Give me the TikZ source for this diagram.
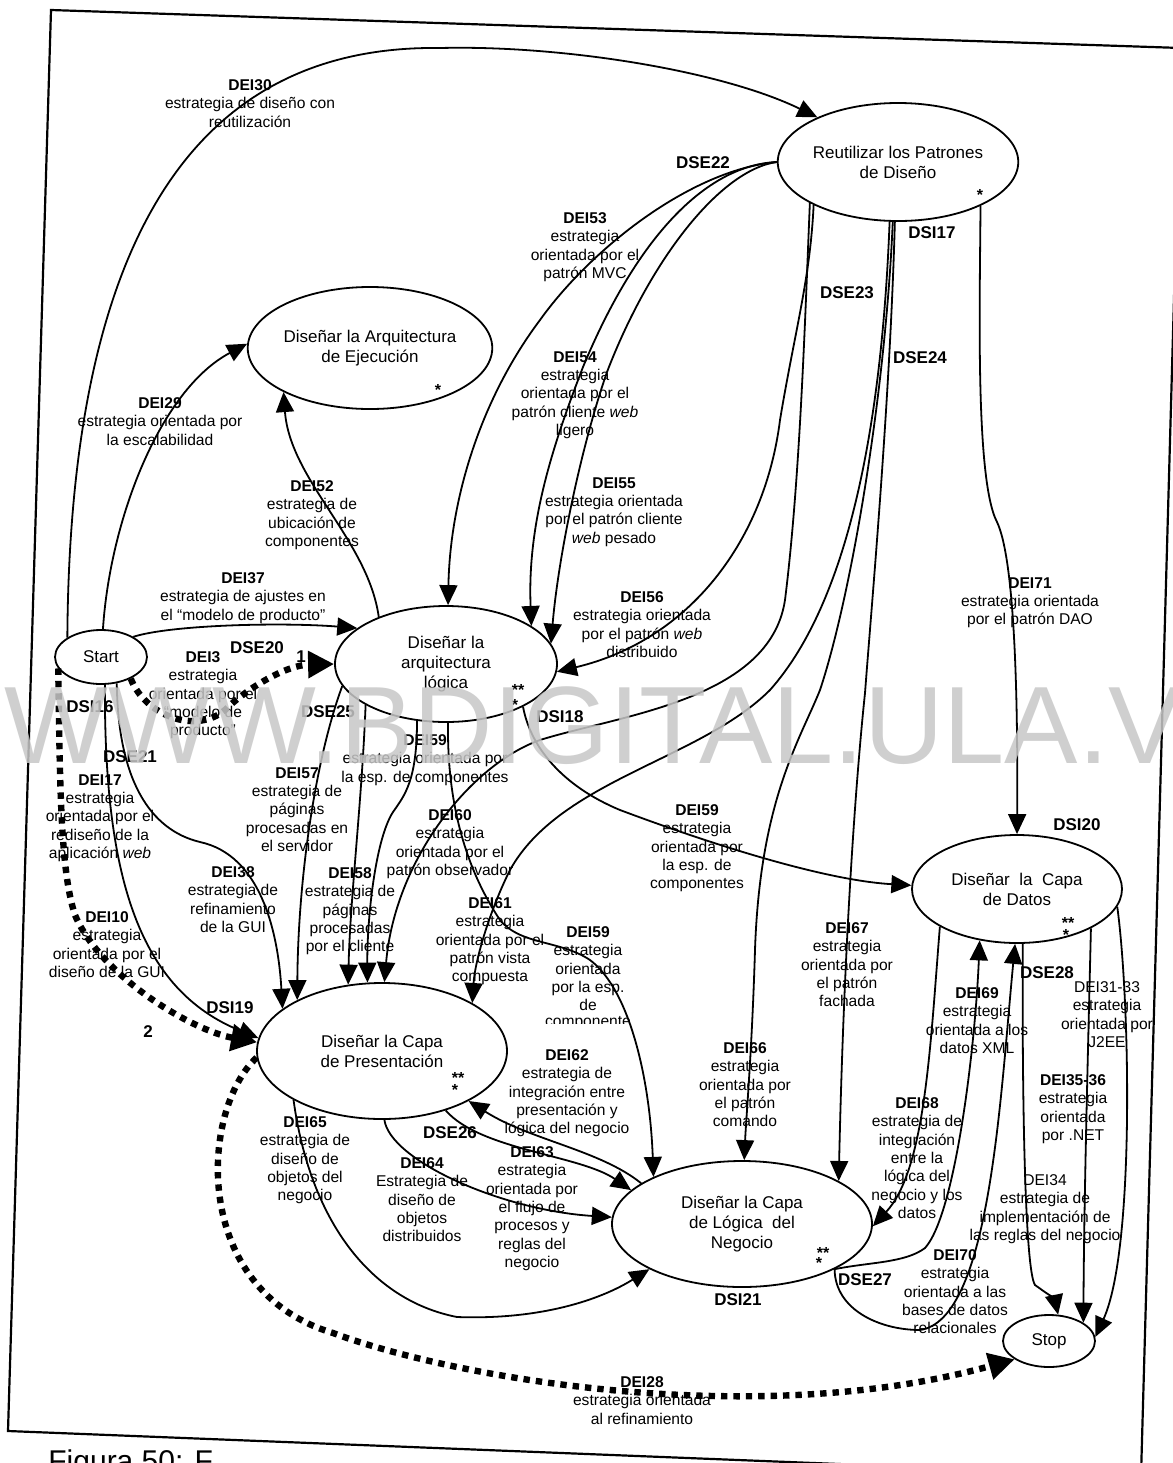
\documentclass[tikz,border=0pt]{standalone}
\usepackage{fontspec}
\setmainfont{Liberation Sans}
\usetikzlibrary{shapes.geometric,arrows.meta}
\begin{document}
\begin{tikzpicture}[x=0.5pt,y=-0.5pt,
  stagebox/.style={draw, ellipse, line width=0.9pt, inner sep=0pt, align=center,
    font=\fontsize{8.5}{10}\selectfont},
  lbltext/.style={align=center, inner sep=0pt, anchor=north,
    font=\fontsize{7.8}{9.2}\selectfont},
  tagtext/.style={inner sep=0pt, font=\fontsize{8.5}{10}\selectfont\bfseries},
  starmark/.style={inner sep=0pt, font=\fontsize{8}{8}\selectfont\bfseries},
  flowline/.style={line width=0.9pt, -{Triangle[length=10pt,width=9pt]}},
  dotline/.style={line width=3.2pt, dash pattern=on 3.2pt off 3pt,
    -{Triangle[length=13pt,width=13pt]}}]
\useasboundingbox (0,0) rectangle (1173,1463);
\clip (0,0) rectangle (1173,1463);
\fill[white] (0,0) rectangle (1173,1463);

% page frame
\draw[line width=1.1pt] (51,10) -- (1181,48) -- (1141,1476) -- (8,1431) -- cycle;

% caption below the frame (runs off the page bottom)
\node[anchor=base west, inner sep=0pt, font=\fontsize{15}{15}\selectfont] (cap) at (48,1471) {Figura 50: F};

% activities
\node[stagebox, minimum width=118pt, minimum height=59pt] (reuse) at (898,162) {Reutilizar los Patrones\\de Diseño};
\node[stagebox, minimum width=119pt, minimum height=61pt] (ejec) at (370,348) {Diseñar la Arquitectura\\de Ejecución};
\node[stagebox, minimum width=111pt, minimum height=58pt] (arq) at (446,664) {Diseñar la\\arquitectura\\lógica};
\node[stagebox, minimum width=46pt, minimum height=27pt] (start) at (101,657) {Start};
\node[stagebox, minimum width=125pt, minimum height=68pt] (pres) at (382,1051) {Diseñar la Capa\\de Presentación};
\node[stagebox, minimum width=105pt, minimum height=54pt] (datos) at (1017,889) {Diseñar\ \ la\ \ Capa\\de Datos};
\node[stagebox, minimum width=130pt, minimum height=63pt] (logica) at (742,1224) {Diseñar la Capa\\de Lógica\ \ del\\Negocio};
\node[stagebox, minimum width=46pt, minimum height=26pt] (stop) at (1049,1341) {Stop};

% asterisk marks
\node[starmark] (m1) at (980,195) {*};
\node[starmark] (m2) at (438,390) {*};
\node[starmark] (m3) at (518,690) {**};
\node[starmark] (m4) at (515,705) {*};
\node[starmark] (m5) at (458,1078) {**};
\node[starmark] (m6) at (455,1090) {*};
\node[starmark] (m7) at (1068,923) {**};
\node[starmark] (m8) at (1066,935) {*};
\node[starmark] (m9) at (823,1253) {**};
\node[starmark] (m10) at (819,1263) {*};

% connectors from Start
\draw[flowline] (start.150) .. controls (70,200) and (220,45) .. (440,48) .. controls (560,45) and (720,70) .. (reuse.151);
\draw[flowline] (start.86) .. controls (110,520) and (160,390) .. (ejec.178);
\draw[flowline] (start.32) .. controls (170,625) and (280,622) .. (arq.158);
\draw[dotline] (start.-36) .. controls (145,715) and (195,735) .. (225,710) .. controls (245,690) and (285,665) .. (arq.180);
\draw[dotline] (start.195) .. controls (60,780) and (60,870) .. (75,915) .. controls (100,975) and (190,1030) .. (pres.176);
\draw[flowline] (start.278) .. controls (104,880) and (140,990) .. (pres.174);
\draw[flowline] (start.301) .. controls (118,780) and (150,830) .. (200,842) .. controls (260,855) and (278,930) .. (pres.157);

% connectors from the logical architecture
\draw[flowline] (arq.145) .. controls (368,540) and (290,480) .. (ejec.207);
\draw[flowline] (arq.192) .. controls (315,760) and (298,880) .. (pres.149);
\draw[flowline] (arq.207) .. controls (362,800) and (350,900) .. (pres.117);
\draw[flowline] (arq.243) .. controls (417,780) and (405,795) .. (393,812) .. controls (375,840) and (367,920) .. (pres.102);
\draw[flowline] (arq.-29) .. controls (530,745) and (560,785) .. (620,810) .. controls (700,840) and (820,880) .. (datos.178);
\draw[flowline] (arq.-88) .. controls (447,790) and (460,860) .. (500,920) .. controls (520,945) and (560,940) .. (590,960) .. controls (630,990) and (650,1080) .. (logica.152);

% connectors from the design patterns
\draw[flowline] (reuse.180) .. controls (690,170) and (590,250) .. (540,320) .. controls (480,400) and (450,500) .. (arq.88);
\draw[flowline] (reuse.180) .. controls (710,165) and (640,230) .. (583,367) .. controls (555,440) and (527,520) .. (arq.24);
\draw[flowline] (reuse.180) .. controls (720,170) and (650,260) .. (607,372) .. controls (580,450) and (558,560) .. (arq.11);
\draw[flowline] (reuse.207) .. controls (810,280) and (795,330) .. (780,420) .. controls (765,540) and (690,640) .. (arq.-4);
\draw[flowline] (reuse.205) .. controls (805,320) and (800,480) .. (785,600) .. controls (770,700) and (620,715) .. (540,740) .. controls (470,765) and (395,860) .. (pres.88);
\draw[flowline] (reuse.262) .. controls (882,420) and (850,600) .. (770,690) .. controls (700,760) and (560,780) .. (510,870) .. controls (490,910) and (475,960) .. (pres.28);
\draw[flowline] (reuse.265) .. controls (885,400) and (850,600) .. (820,690) .. controls (800,740) and (760,800) .. (755,950) .. controls (752,1050) and (746,1120) .. (logica.88);
\draw[flowline] (reuse.267) .. controls (890,400) and (872,600) .. (865,693) .. controls (860,740) and (845,900) .. (logica.24);
\draw[flowline] (reuse.-28) .. controls (980,300) and (975,480) .. (997,522) .. controls (1015,560) and (1018,700) .. (datos.90);

% connectors around the presentation and business layers
\draw[flowline] (logica.158) .. controls (600,1150) and (530,1140) .. (pres.-30);
\draw[flowline] (pres.-43) .. controls (480,1150) and (580,1155) .. (logica.163);
\draw[flowline] (pres.-88) .. controls (390,1160) and (500,1210) .. (logica.177);
\draw[flowline] (pres.209) .. controls (310,1220) and (370,1300) .. (457,1317) .. controls (540,1320) and (600,1300) .. (logica.206);
\draw[dotline] (pres.183) .. controls (200,1110) and (190,1290) .. (333,1333) .. controls (460,1380) and (760,1430) .. (stop.208);

% connectors around the data layer
\draw[flowline] (datos.206) .. controls (930,1050) and (925,1170) .. (logica.-1);
\draw[flowline] (logica.-26) .. controls (870,1262) and (905,1263) .. (925,1248) .. controls (955,1215) and (975,1050) .. (datos.234);
\draw[flowline] (logica.-26) .. controls (835,1310) and (880,1330) .. (920,1330) .. controls (990,1320) and (1000,1100) .. (datos.268);
\draw[flowline] (datos.276) .. controls (1022,1100) and (1025,1270) .. (1035,1285) .. controls (1045,1292) and (1055,1300) .. (stop.71);
\draw[flowline] (datos.-28) .. controls (1088,1050) and (1084,1200) .. (stop.28);
\draw[flowline] (datos.-10) .. controls (1130,1000) and (1135,1250) .. (stop.5);

% strategy labels
\node[lbltext] (l30) at (250,79) {\textbf{DEI30}\\estrategia de diseño con\\reutilización};
\node[lbltext] (l29) at (160,397) {\textbf{DEI29}\\estrategia orientada por\\la escalabilidad};
\node[lbltext] (l52) at (312,480) {\textbf{DEI52}\\estrategia de\\ubicación de\\componentes};
\node[lbltext] (l37) at (243,572) {\textbf{DEI37}\\estrategia de ajustes en\\el “modelo de producto”};
\node[lbltext] (l3) at (203,651) {\textbf{DEI3}\\estrategia\\orientada por el\\“modelo de\\producto”};
\node[lbltext] (l17) at (100,774) {\textbf{DEI17}\\estrategia\\orientada por el\\rediseño de la\\aplicación \textit{web}};
\node[lbltext] (l10) at (107,911) {\textbf{DEI10}\\estrategia\\orientada por el\\diseño de la GUI};
\node[lbltext] (l38) at (233,866) {\textbf{DEI38}\\estrategia de\\refinamiento\\de la GUI};
\node[lbltext] (l57) at (297,767) {\textbf{DEI57}\\estrategia de\\páginas\\procesadas en\\el servidor};
\node[lbltext] (l58) at (350,867) {\textbf{DEI58}\\estrategia de\\páginas\\procesadas\\por el cliente};
\node[lbltext] (l59a) at (425,734) {\textbf{DEI59}\\estrategia orientada por\\la esp. de componentes};
\node[lbltext] (l60) at (450,809) {\textbf{DEI60}\\estrategia\\orientada por el\\patrón observador};
\node[lbltext] (l61) at (490,897) {\textbf{DEI61}\\estrategia\\orientada por el\\patrón vista\\compuesta};
\node[lbltext] (l59b) at (588,926) {\textbf{DEI59}\\estrategia\\orientada\\por la esp.\\de};
\begin{scope}
  \clip (530,1010) rectangle (650,1023);
  \node[lbltext] (l59bx) at (588,1016) {componente};
\end{scope}
\node[lbltext] (l59c) at (697,804) {\textbf{DEI59}\\estrategia\\orientada por\\la esp. de\\componentes};
\node[lbltext] (l62) at (567,1049) {\textbf{DEI62}\\estrategia de\\integración entre\\presentación y\\lógica del negocio};
\node[lbltext] (l63) at (532,1146) {\textbf{DEI63}\\estrategia\\orientada por\\el flujo de\\procesos y\\reglas del\\negocio};
\node[lbltext] (l64) at (422,1157) {\textbf{DEI64}\\Estrategia de\\diseño de\\objetos\\distribuidos};
\node[lbltext] (l65) at (305,1116) {\textbf{DEI65}\\estrategia de\\diseño de\\objetos del\\negocio};
\node[lbltext] (l28) at (642,1376) {\textbf{DEI28}\\estrategia orientada\\al refinamiento};
\node[lbltext] (l53) at (585,212) {\textbf{DEI53}\\estrategia\\orientada por el\\patrón MVC};
\node[lbltext] (l54) at (575,351) {\textbf{DEI54}\\estrategia\\orientada por el\\patrón cliente \textit{web}\\ligero};
\node[lbltext] (l55) at (614,477) {\textbf{DEI55}\\estrategia orientada\\por el patrón cliente\\\textit{web} pesado};
\node[lbltext] (l56) at (642,591) {\textbf{DEI56}\\estrategia orientada\\por el patrón \textit{web}\\distribuido};
\node[lbltext] (l71) at (1030,577) {\textbf{DEI71}\\estrategia orientada\\por el patrón DAO};
\node[lbltext] (l67) at (847,922) {\textbf{DEI67}\\estrategia\\orientada por\\el patrón\\fachada};
\node[lbltext] (l66) at (745,1042) {\textbf{DEI66}\\estrategia\\orientada por\\el patrón\\comando};
\node[lbltext] (l69) at (977,987) {\textbf{DEI69}\\estrategia\\orientada a los\\datos XML};
\node[lbltext] (l3133) at (1107,981) {DEI31-33\\estrategia\\orientada por\\J2EE};
\node[lbltext] (l3536) at (1073,1074) {\textbf{DEI35-36}\\estrategia\\orientada\\por .NET};
\node[lbltext] (l34) at (1045,1174) {DEI34\\estrategia de\\implementación de\\las reglas del negocio};
\node[lbltext] (l68) at (917,1097) {\textbf{DEI68}\\estrategia de\\integración\\entre la\\lógica del\\negocio y los\\datos};
\node[lbltext] (l70) at (955,1249) {\textbf{DEI70}\\estrategia\\orientada a las\\bases de datos\\relacionales};

% section tags
\node[tagtext] (t22) at (703,163) {DSE22};
\node[tagtext] (t20) at (257,648) {DSE20};
\node[tagtext] (n1) at (301,657) {1};
\node[tagtext] (t16) at (90,707) {DSI16};
\node[tagtext] (t21) at (130,757) {DSE21};
\node[tagtext] (t19) at (230,1008) {DSI19};
\node[tagtext] (n2) at (148,1032) {2};
\node[tagtext] (t25) at (328,712) {DSE25};
\node[tagtext] (t18) at (560,717) {DSI18};
\node[tagtext] (t26) at (450,1133) {DSE26};
\node[tagtext] (t17) at (932,233) {DSI17};
\node[tagtext] (t23) at (847,293) {DSE23};
\node[tagtext] (t24) at (920,358) {DSE24};
\node[tagtext] (tdsi20) at (1077,825) {DSI20};
\node[tagtext] (t28) at (1047,973) {DSE28};
\node[tagtext] (t27) at (865,1280) {DSE27};
\node[tagtext] (tdsi21) at (738,1300) {DSI21};

% repository watermark
\node[anchor=base west, inner sep=0pt, text=black!22, opacity=0.85,
  font=\fontsize{55}{55}\selectfont] (wm) at (4,763) {WWW.BDIGITAL.ULA.VE};
\end{tikzpicture}
\end{document}
